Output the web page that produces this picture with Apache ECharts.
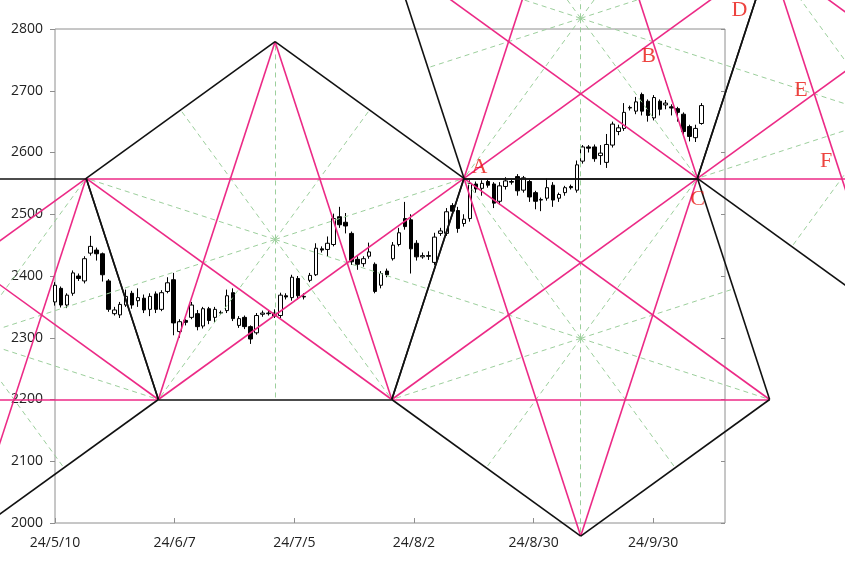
<!DOCTYPE html>
<html><head><meta charset="utf-8">
<script src="https://cdn.jsdelivr.net/npm/echarts@6/dist/echarts.min.js"></script>
<style>html,body{margin:0;padding:0;background:#fff}#c{width:845px;height:566px}</style>
</head><body><div id="c"></div>
<script>
// ---- categories (trading days) ----
const categories = ("24/5/10 24/5/13 24/5/14 24/5/15 24/5/16 24/5/17 24/5/20 24/5/21 24/5/22 24/5/23 24/5/24 24/5/27 24/5/28 24/5/29 24/5/30 24/5/31 " +
 "24/6/3 24/6/4 24/6/5 24/6/6 24/6/7 24/6/10 24/6/11 24/6/12 24/6/13 24/6/14 24/6/17 24/6/18 24/6/19 24/6/20 24/6/21 24/6/24 24/6/25 24/6/26 24/6/27 24/6/28 " +
 "24/7/1 24/7/2 24/7/3 24/7/4 24/7/5 24/7/8 24/7/9 24/7/10 24/7/11 24/7/12 24/7/15 24/7/16 24/7/17 24/7/18 24/7/19 24/7/22 24/7/23 24/7/24 24/7/25 24/7/26 24/7/29 24/7/30 24/7/31 " +
 "24/8/1 24/8/2 24/8/5 24/8/6 24/8/7 24/8/8 24/8/9 24/8/12 24/8/13 24/8/14 24/8/15 24/8/16 24/8/19 24/8/20 24/8/21 24/8/22 24/8/23 24/8/26 24/8/27 24/8/28 24/8/29 24/8/30 " +
 "24/9/2 24/9/3 24/9/4 24/9/5 24/9/6 24/9/9 24/9/10 24/9/11 24/9/12 24/9/13 24/9/16 24/9/17 24/9/18 24/9/19 24/9/20 24/9/23 24/9/24 24/9/25 24/9/26 24/9/27 24/9/30 " +
 "24/10/1 24/10/2 24/10/3 24/10/4 24/10/7 24/10/8 24/10/9 24/10/10 24/10/11 24/10/14 24/10/15 24/10/16").split(" ");

// ---- tick labels on the date axis (every 20 days) ----
const tickLabels = ["24/5/10","24/6/7","24/7/5","24/8/2","24/8/30","24/9/30"];

// ---- OHLC values ----
const opens  = [2358,2380,2353,2372,2400,2392,2437,2442,2436,2392,2339,2337,2353,2372,2360,2364,2346,2371,2346,2375,
                2394,2310,2328,2333,2339,2319,2347,2333,2340,2344,2373,2320,2333,2318,2308,2338,2339,2340,2336,2368,
                2365,2396,2366,2393,2402,2444,2443,2451,2496,2487,2469,2427,2420,2432,2419,2385,2408,2428,2451,2493,
                2491,2453,2431,2433,2422,2469,2469,2514,2506,2485,2493,2549,2542,2553,2549,2521,2545,2553,2561,2539,
                2553,2535,2523,2526,2547,2526,2535,2545,2539,2586,2609,2609,2595,2584,2612,2634,2639,2672,2667,2694,
                2683,2656,2683,2677,2674,2671,2662,2642,2624,2647];
const closes = [2385,2353,2369,2405,2396,2428,2448,2436,2402,2346,2345,2354,2367,2353,2365,2345,2367,2346,2373,2389,
                2324,2326,2325,2353,2318,2347,2328,2346,2341,2368,2331,2331,2318,2298,2336,2340,2340,2335,2369,2366,
                2398,2368,2367,2401,2445,2442,2453,2493,2483,2481,2423,2419,2428,2439,2375,2404,2402,2450,2470,2480,
                2444,2431,2433,2432,2463,2473,2504,2505,2477,2492,2550,2541,2550,2547,2518,2546,2554,2552,2538,2559,
                2528,2521,2524,2543,2523,2532,2543,2543,2580,2609,2607,2590,2599,2613,2646,2640,2665,2673,2682,2667,
                2660,2689,2670,2680,2672,2665,2634,2626,2639,2676];
const lows   = [2352,2349,2348,2368,2392,2388,2433,2425,2391,2342,2336,2332,2350,2347,2350,2340,2335,2340,2343,2372,
                2304,2300,2320,2330,2312,2315,2322,2325,2337,2340,2327,2316,2314,2290,2305,2334,2336,2332,2332,2362,
                2360,2362,2362,2390,2400,2438,2431,2448,2478,2469,2418,2410,2415,2428,2372,2380,2398,2425,2448,2475,
                2404,2425,2428,2426,2418,2465,2465,2500,2470,2480,2488,2535,2530,2543,2510,2515,2540,2548,2530,2535,
                2520,2508,2505,2522,2512,2520,2530,2540,2535,2582,2600,2585,2580,2575,2608,2628,2635,2668,2662,2660,
                2650,2652,2660,2670,2660,2650,2628,2618,2617,2645];
const highs  = [2390,2383,2372,2409,2404,2432,2465,2446,2438,2395,2350,2358,2378,2376,2380,2370,2372,2375,2377,2398,
                2405,2330,2330,2358,2345,2350,2350,2350,2344,2378,2380,2335,2336,2320,2340,2344,2345,2346,2373,2372,
                2402,2400,2372,2405,2453,2448,2464,2501,2512,2502,2472,2432,2432,2454,2422,2408,2412,2455,2478,2520,
                2500,2458,2438,2440,2470,2478,2510,2518,2512,2500,2555,2553,2555,2556,2552,2552,2560,2556,2565,2562,
                2556,2538,2527,2558,2552,2535,2546,2548,2587,2612,2612,2613,2612,2630,2650,2645,2680,2676,2690,2697,
                2686,2693,2686,2685,2678,2674,2665,2645,2645,2680];

// ---- pentagon vertices [day position, price], listed in cyclic order ----
const pentagon0 = [[-33.81,2558.2],[5.21,2558.2],[17.28,2200],[-14.30,1978.8],[-45.88,2200]];
const pentagon1 = [[36.79,2779.4],[68.37,2558.2],[56.30,2200],[17.28,2200],[5.21,2558.2]];
const pentagon2 = [[68.37,2558.2],[107.39,2558.2],[119.46,2200],[87.88,1978.8],[56.30,2200]];
const pentagon3 = [[87.88,3137.6],[119.46,2916.4],[107.39,2558.2],[68.37,2558.2],[56.30,2916.4]];
const pentagon5 = [[119.46,2916.4],[158.48,2916.4],[170.55,2558.2],[138.97,2337.0],[107.39,2558.2]];
const pentagons = [pentagon0, pentagon1, pentagon2, pentagon3, pentagon5];

// ---- point labels ----
const letterNames = ["A","B","C","D","E","F"];
const letterX = [70.96, 99.21, 107.41, 114.43, 124.71, 128.89];
const letterY = [2575.7, 2756.3, 2523.9, 2830.0, 2701.2, 2586.2];

// ---- build ----
const candleData = opens.map((o,i)=>[o, closes[i], lows[i], highs[i]]);
const edges = [], diags = [], rays = [];
pentagons.forEach(p => {
  const c = [p.reduce((s,v)=>s+v[0],0)/5, p.reduce((s,v)=>s+v[1],0)/5];
  for (let i=0;i<5;i++){
    const a=p[i], b=p[(i+1)%5], d=p[(i+2)%5];
    edges.push({coords:[a,b]});
    diags.push({coords:[a,d]});
    rays.push({coords:[c,a]});
    rays.push({coords:[c,[(a[0]+b[0])/2,(a[1]+b[1])/2]]});
  }
});
const letters = letterNames.map((n,i)=>({name:n, value:[letterX[i], letterY[i]]}));

const GRAY = '#8e8e8e';
const chart = echarts.init(document.getElementById('c'));
chart.setOption({
  animation:false,
  backgroundColor:'#fff',
  textStyle:{fontFamily:'Open Sans'},
  grid:{left:55,right:120,top:29,bottom:43,show:true,borderColor:GRAY,borderWidth:1,backgroundColor:'transparent'},
  xAxis:[
    {type:'category',data:categories,boundaryGap:false,show:false,position:'bottom'},
    {type:'value',min:0,max:112,interval:20,position:'bottom',
     axisLine:{show:false,onZero:false},
     axisTick:{show:true,inside:true,length:5,lineStyle:{color:GRAY}},
     splitLine:{show:false},
     axisLabel:{margin:13,fontSize:14,color:'#222',fontFamily:'Open Sans',showMaxLabel:false,
       formatter:v=>{const k=Math.round(v/20);return (Math.abs(v-k*20)<1e-6 && tickLabels[k])?tickLabels[k]:'';}}}
  ],
  yAxis:[
    {type:'value',min:2000,max:2800,interval:100,position:'left',
     axisLine:{show:false},axisTick:{show:true,length:5,lineStyle:{color:GRAY}},
     splitLine:{show:false},axisLabel:{margin:12,fontSize:14,color:'#222',fontFamily:'Open Sans',formatter:v=>String(v)}},
    {type:'value',min:2000,max:2800,interval:100,position:'right',
     axisLine:{show:false},axisTick:{show:true,inside:true,length:4,lineStyle:{color:GRAY}},
     splitLine:{show:false},axisLabel:{show:false}}
  ],
  series:[
    {type:'candlestick',xAxisIndex:0,yAxisIndex:0,data:candleData,barWidth:4,z:2,
     itemStyle:{color:'#ffffff',color0:'#000000',borderColor:'#000000',borderColor0:'#000000',borderWidth:1}},
    {type:'lines',coordinateSystem:'cartesian2d',xAxisIndex:1,yAxisIndex:0,clip:false,z:3,silent:true,
     lineStyle:{color:'#9ccf9c',width:1,type:[5,4],opacity:1},data:rays},
    {type:'lines',coordinateSystem:'cartesian2d',xAxisIndex:1,yAxisIndex:0,clip:false,z:4,silent:true,
     lineStyle:{color:'#ec2a86',width:1.6,opacity:1},data:diags},
    {type:'lines',coordinateSystem:'cartesian2d',xAxisIndex:1,yAxisIndex:0,clip:false,z:5,silent:true,
     lineStyle:{color:'#111111',width:1.6,opacity:1},data:edges},
    {type:'scatter',xAxisIndex:1,yAxisIndex:0,clip:false,z:6,symbolSize:0,silent:true,data:letters,
     label:{show:true,position:'inside',formatter:p=>p.name,color:'#e8140f',fontSize:22,fontFamily:'Liberation Serif'}}
  ]
});
</script></body></html>
